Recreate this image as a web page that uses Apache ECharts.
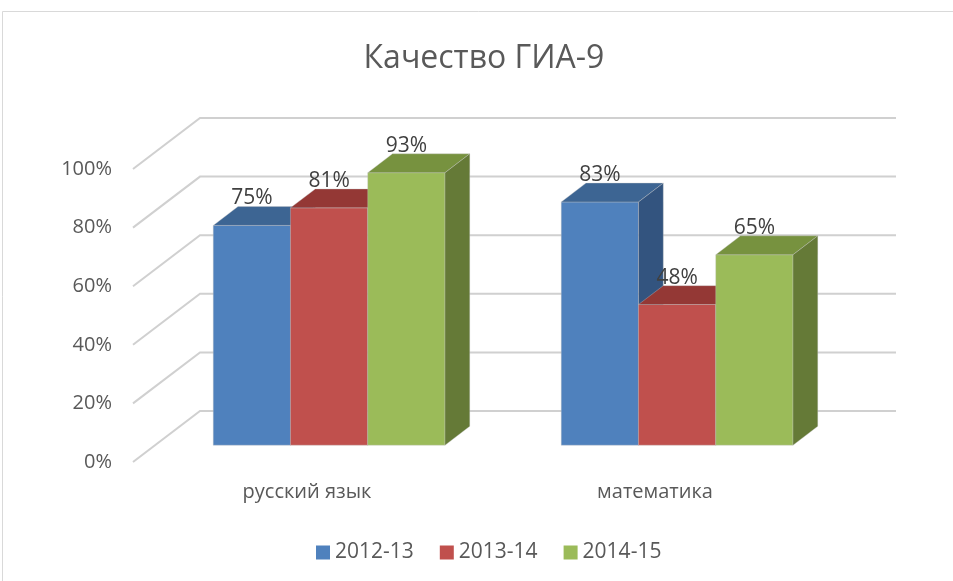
<!DOCTYPE html>
<html>
<head>
<meta charset="utf-8">
<script src="https://cdn.jsdelivr.net/npm/echarts@6/dist/echarts.min.js"></script>
<style>
  html, body { margin: 0; padding: 0; background: #fff; }
  #chart { width: 953px; height: 581px; }
</style>
</head>
<body>
<div id="chart"></div>
<script>
const categories = ['русский язык', 'математика'];
const years = ['2012-13', '2013-14', '2014-15'];
const values2012 = [75, 83];
const values2013 = [81, 48];
const values2014 = [93, 65];
const yTicks = [0, 20, 40, 60, 80, 100];

const seriesValues = [values2012, values2013, values2014];
const frontColors = ['#4F81BD', '#C0504D', '#9BBB59'];
const topColors = ['#3D6593', '#943835', '#77923F'];
const sideColors = ['#33547F', '#7E2F2D', '#657A37'];

// oblique depth of the floor, and where the bars sit inside it
const DEPTH_X = 67, DEPTH_Y = 51;
const FRONT = 0.33, BACK = 0.70;
const BAR_FRAC = 0.222;
const FONT = 'Open Sans';

const chart = echarts.init(document.getElementById('chart'), null, { renderer: 'canvas' });

function renderGrid(params, api) {
    const cs = params.coordSys;
    const p = api.coord([0, api.value(1)]);
    const y = p[1];
    return {
        type: 'polyline',
        shape: {
            points: [
                [cs.x, y],
                [cs.x + DEPTH_X, y - DEPTH_Y],
                [cs.x + cs.width + DEPTH_X, y - DEPTH_Y]
            ]
        },
        style: { stroke: '#D0D0D0', lineWidth: 2, fill: null },
        silent: true
    };
}

function makeBarRenderer(k) {
    return function (params, api) {
        const cat = api.value(0);
        const v = api.value(1);
        const base = api.coord([cat, 0]);
        const top = api.coord([cat, v]);
        const band = api.size([1, 0])[0];
        const bw = band * BAR_FRAC;
        const ox = DEPTH_X * FRONT, oy = DEPTH_Y * FRONT;
        const bx = DEPTH_X * (BACK - FRONT), by = DEPTH_Y * (BACK - FRONT);
        const x0 = base[0] - 1.5 * bw + k * bw + ox;
        const x1 = x0 + bw;
        const yb = base[1] - oy;
        const yt = top[1] - oy;
        const edge = 'rgba(200,200,200,0.6)';
        return {
            type: 'group',
            children: [
                {
                    type: 'rect',
                    shape: { x: x0, y: yt, width: bw, height: yb - yt },
                    style: { fill: frontColors[k], stroke: edge, lineWidth: 0.6 }
                },
                {
                    type: 'polygon',
                    shape: { points: [[x0, yt], [x1, yt], [x1 + bx, yt - by], [x0 + bx, yt - by]] },
                    style: { fill: topColors[k], stroke: edge, lineWidth: 0.6 }
                },
                {
                    type: 'polygon',
                    shape: { points: [[x1, yt], [x1 + bx, yt - by], [x1 + bx, yb - by], [x1, yb]] },
                    style: { fill: sideColors[k], stroke: edge, lineWidth: 0.6 }
                },
                {
                    type: 'text',
                    z2: 100,
                    style: {
                        x: (x0 + x1) / 2,
                        y: yt - 27,
                        text: v + '%',
                        align: 'center',
                        verticalAlign: 'middle',
                        fill: '#404040',
                        font: '21px "' + FONT + '"'
                    }
                }
            ]
        };
    };
}

const barSeries = years.map(function (name, k) {
    return {
        name: name,
        type: 'custom',
        renderItem: makeBarRenderer(k),
        itemStyle: { color: frontColors[k] },
        encode: { x: 0, y: 1 },
        clip: false,
        data: seriesValues[k].map(function (v, i) { return [i, v]; })
    };
});

const option = {
    backgroundColor: '#ffffff',
    animation: false,
    textStyle: { fontFamily: FONT },
    title: {
        text: 'Качество ГИА-9',
        left: 479,
        textAlign: 'center',
        top: 38,
        textStyle: { fontSize: 32, fontWeight: 'normal', color: '#595959', fontFamily: FONT }
    },
    legend: {
        data: years,
        top: 537,
        left: 311,
        icon: 'rect',
        itemWidth: 14,
        itemHeight: 14,
        itemGap: 26,
        textStyle: { fontSize: 21, color: '#595959', fontFamily: FONT }
    },
    grid: { left: 133, right: 124, top: 169, bottom: 119 },
    xAxis: {
        type: 'category',
        data: categories,
        axisLine: { show: false },
        axisTick: { show: false },
        axisLabel: { fontSize: 20, color: '#595959', margin: 20, fontFamily: FONT }
    },
    yAxis: {
        type: 'value',
        min: 0,
        max: 100,
        interval: 20,
        splitLine: { show: false },
        axisLine: { show: false },
        axisTick: { show: false },
        axisLabel: { fontSize: 20, color: '#595959', margin: 21, formatter: '{value}%', fontFamily: FONT }
    },
    graphic: [{
        type: 'rect',
        shape: { x: 2.5, y: 11.5, width: 980, height: 620 },
        style: { fill: null, stroke: '#D9D9D9', lineWidth: 1 },
        silent: true
    }],
    series: [{
        name: 'grid',
        type: 'custom',
        renderItem: renderGrid,
        encode: { x: 0, y: 1 },
        clip: false,
        silent: true,
        data: yTicks.map(function (v) { return [0, v]; })
    }].concat(barSeries)
};

chart.setOption(option);
</script>
</body>
</html>
